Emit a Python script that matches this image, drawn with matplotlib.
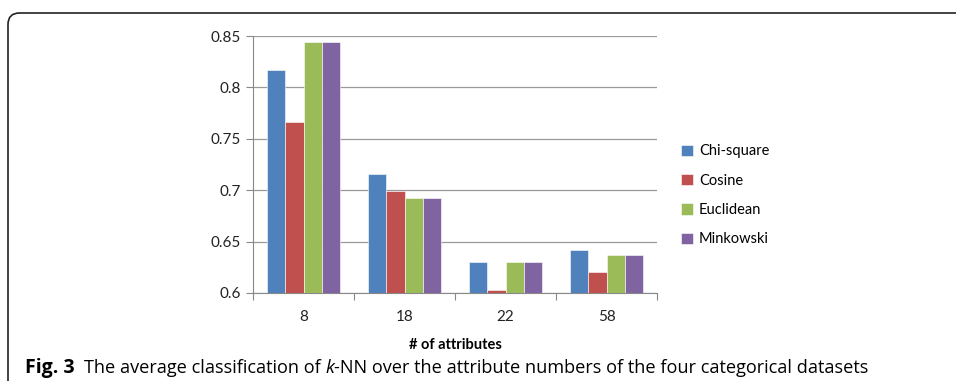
import numpy as np
import matplotlib.pyplot as plt
from matplotlib.patches import FancyBboxPatch

# attribute counts and mean accuracy per distance measure
attributes = ['8', '18', '22', '58']
series = ['Chi-square', 'Cosine', 'Euclidean', 'Minkowski']
chi_square = [0.817, 0.716, 0.630, 0.642]
cosine = [0.766, 0.699, 0.603, 0.620]
euclidean = [0.844, 0.692, 0.630, 0.637]
minkowski = [0.844, 0.692, 0.630, 0.637]
colors = ['#4F81BD', '#C0504D', '#9BBB59', '#8064A2']

chart_font = ['Lato', 'DejaVu Sans']
cap_font = ['Open Sans', 'DejaVu Sans']

fig = plt.figure(figsize=(9.56, 3.81), dpi=100)

# frame around the figure, open to the right and bottom
frame = FancyBboxPatch((8 / 956, -0.2), 1.2, 1.2 - 13 / 381,
                       boxstyle='round,pad=0,rounding_size=0.012',
                       transform=fig.transFigure, fill=False,
                       edgecolor='#222222', linewidth=1.2,
                       mutation_aspect=956 / 381)
fig.patches.append(frame)

ax = fig.add_axes([253 / 956, 1 - 293 / 381, 404 / 956, 257 / 381])

x = np.arange(len(attributes))
w = 0.183
for i, (name, vals) in enumerate(zip(series, [chi_square, cosine, euclidean, minkowski])):
    ax.bar(x + (i - 1.5) * w, vals, width=w, color=colors[i], label=name,
           edgecolor='white', linewidth=0.4, zorder=3)

ax.set_ylim(0.6, 0.85)
ax.set_yticks([0.6, 0.65, 0.7, 0.75, 0.8, 0.85])
ax.set_yticklabels(['0.6', '0.65', '0.7', '0.75', '0.8', '0.85'])
ax.set_xlim(-0.5, 3.5)
ax.set_xticks(x)
ax.set_xticklabels(attributes)
ax.set_xticks(np.arange(-0.5, 4, 1), minor=True)
ax.tick_params(axis='x', which='major', length=0, pad=12)
ax.tick_params(axis='x', which='minor', length=5, color='#888888', width=0.8)
ax.tick_params(axis='y', length=5, color='#888888', width=0.8, pad=4)
for lab in ax.get_xticklabels() + ax.get_yticklabels():
    lab.set_family(chart_font)
    lab.set_fontsize(11)
    lab.set_color('#222222')

ax.grid(axis='y', color='#999999', linewidth=0.9, zorder=0)
for s in ['top', 'right']:
    ax.spines[s].set_visible(False)
ax.spines['left'].set_color('#888888')
ax.spines['bottom'].set_color('#888888')

ax.set_xlabel('# of attributes', fontsize=10.5, fontweight='bold',
              family=chart_font, labelpad=10)

leg = ax.legend(loc='center left', bbox_to_anchor=(1.028, 0.38), frameon=False,
                prop={'family': chart_font, 'size': 10.5}, handlelength=0.8,
                handleheight=0.8, handletextpad=0.4, labelspacing=1.05)

# caption: bold label, then text with an italic k
cy = 1 - 368 / 381
fig.text(25 / 956, cy, 'Fig. 3', fontsize=14, fontweight='bold',
         family=cap_font, va='center')
fig.canvas.draw()
r = fig.canvas.get_renderer()
xpos = 84
for piece, style in [('The average classification of ', 'normal'), ('k', 'italic'),
                     ('-NN over the attribute numbers of the four categorical datasets', 'normal')]:
    t = fig.text(xpos / 956, cy, piece, fontsize=13.05, family=cap_font,
                 fontstyle=style, va='center')
    xpos += t.get_window_extent(r).width

fig.savefig('out.png', dpi=100)
